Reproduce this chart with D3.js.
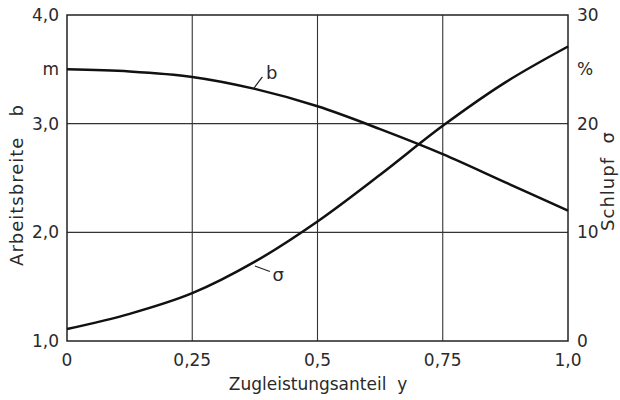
<!DOCTYPE html>
<html>
<head>
<meta charset="utf-8">
<script src="https://cdn.jsdelivr.net/npm/d3@7"></script>
<style>
  body { margin: 0; background: #fff; }
  text { font-family: "DejaVu Sans", sans-serif; fill: #2a2a2a; }
</style>
</head>
<body>
<svg id="chart"></svg>
<script>
// Zugleistungsanteil y (x axis)
var shares = [0, 0.125, 0.25, 0.375, 0.5, 0.625, 0.75, 0.875, 1.0];
// Arbeitsbreite b in m (left axis)
var widthB = [3.50, 3.48, 3.43, 3.32, 3.16, 2.95, 2.72, 2.46, 2.20];
// Schlupf sigma in % (right axis)
var slip = [1.1, 2.5, 4.4, 7.3, 11.0, 15.3, 19.8, 23.8, 27.1];

var xTicks = [0, 0.25, 0.5, 0.75, 1.0];
var xTickLabels = ["0", "0,25", "0,5", "0,75", "1,0"];
var leftTicks = [1, 2, 3, 4];
var leftTickLabels = ["1,0", "2,0", "3,0", "4,0"];
var rightTicks = [0, 10, 20, 30];

var width = 620, height = 400;
// plot box (window.top is read-only, so no plain "top")
var pLeft = 67, pRight = 568, pTop = 15, pBottom = 341;

var svg = d3.select("#chart")
  .attr("width", width)
  .attr("height", height);

var x = d3.scaleLinear().domain([0, 1]).range([pLeft, pRight]);
var yB = d3.scaleLinear().domain([1, 4]).range([pBottom, pTop]);
var yS = d3.scaleLinear().domain([0, 30]).range([pBottom, pTop]);

// grid lines
svg.append("g").selectAll("line")
  .data(xTicks.slice(1, -1))
  .enter().append("line")
  .attr("x1", function(d) { return x(d); })
  .attr("x2", function(d) { return x(d); })
  .attr("y1", pTop).attr("y2", pBottom)
  .attr("stroke", "#333").attr("stroke-width", 1.1);

svg.append("g").selectAll("line")
  .data(leftTicks.slice(1, -1))
  .enter().append("line")
  .attr("x1", pLeft).attr("x2", pRight)
  .attr("y1", function(d) { return yB(d); })
  .attr("y2", function(d) { return yB(d); })
  .attr("stroke", "#333").attr("stroke-width", 1.1);

// frame
svg.append("rect")
  .attr("x", pLeft).attr("y", pTop)
  .attr("width", pRight - pLeft).attr("height", pBottom - pTop)
  .attr("fill", "none").attr("stroke", "#222").attr("stroke-width", 1.5);

// tick labels
svg.append("g").selectAll("text")
  .data(xTicks)
  .enter().append("text")
  .attr("x", function(d) { return x(d); })
  .attr("y", 366)
  .attr("text-anchor", "middle")
  .style("font-size", "17px")
  .text(function(d, i) { return xTickLabels[i]; });

svg.append("g").selectAll("text")
  .data(leftTicks)
  .enter().append("text")
  .attr("x", 59)
  .attr("y", function(d) { return yB(d); })
  .attr("dy", "0.36em")
  .attr("text-anchor", "end")
  .style("font-size", "17px")
  .text(function(d, i) { return leftTickLabels[i]; });

svg.append("text")
  .attr("x", 59).attr("y", yB(3.5))
  .attr("dy", "0.36em")
  .attr("text-anchor", "end")
  .style("font-size", "17px")
  .text("m");

svg.append("g").selectAll("text")
  .data(rightTicks)
  .enter().append("text")
  .attr("x", 577)
  .attr("y", function(d) { return yS(d); })
  .attr("dy", "0.36em")
  .style("font-size", "17px")
  .text(function(d) { return d; });

svg.append("text")
  .attr("x", 577).attr("y", yS(25))
  .attr("dy", "0.36em")
  .style("font-size", "17px")
  .text("%");

// axis titles
svg.append("text")
  .attr("transform", "translate(23,185) rotate(-90)")
  .attr("text-anchor", "middle")
  .style("font-size", "18px")
  .style("letter-spacing", "1px")
  .attr("xml:space", "preserve")
  .text("Arbeitsbreite   b");

svg.append("text")
  .attr("transform", "translate(614,181) rotate(-90)")
  .attr("text-anchor", "middle")
  .style("font-size", "18px")
  .style("letter-spacing", "1px")
  .attr("xml:space", "preserve")
  .text("Schlupf  σ");

svg.append("text")
  .attr("x", 318).attr("y", 390)
  .attr("text-anchor", "middle")
  .style("font-size", "17px")
  .attr("xml:space", "preserve")
  .text("Zugleistungsanteil  y");

// curves
var lineB = d3.line()
  .x(function(d, i) { return x(shares[i]); })
  .y(function(d) { return yB(d); })
  .curve(d3.curveCatmullRom.alpha(0.5));

var lineS = d3.line()
  .x(function(d, i) { return x(shares[i]); })
  .y(function(d) { return yS(d); })
  .curve(d3.curveCatmullRom.alpha(0.5));

svg.append("path")
  .attr("d", lineB(widthB))
  .attr("fill", "none").attr("stroke", "#111").attr("stroke-width", 2.5);

svg.append("path")
  .attr("d", lineS(slip))
  .attr("fill", "none").attr("stroke", "#111").attr("stroke-width", 2.5);

// curve labels with leader ticks
svg.append("line")
  .attr("x1", x(0.372)).attr("y1", yB(3.32))
  .attr("x2", x(0.39)).attr("y2", yB(3.43))
  .attr("stroke", "#222").attr("stroke-width", 1.2);
svg.append("text")
  .attr("x", x(0.397)).attr("y", yB(3.41))
  .style("font-size", "18px")
  .text("b");

svg.append("line")
  .attr("x1", x(0.375)).attr("y1", yS(6.9))
  .attr("x2", x(0.405)).attr("y2", yS(6.4))
  .attr("stroke", "#222").attr("stroke-width", 1.2);
svg.append("text")
  .attr("x", x(0.41)).attr("y", yS(5.5))
  .style("font-size", "18px")
  .text("σ");
</script>
</body>
</html>
